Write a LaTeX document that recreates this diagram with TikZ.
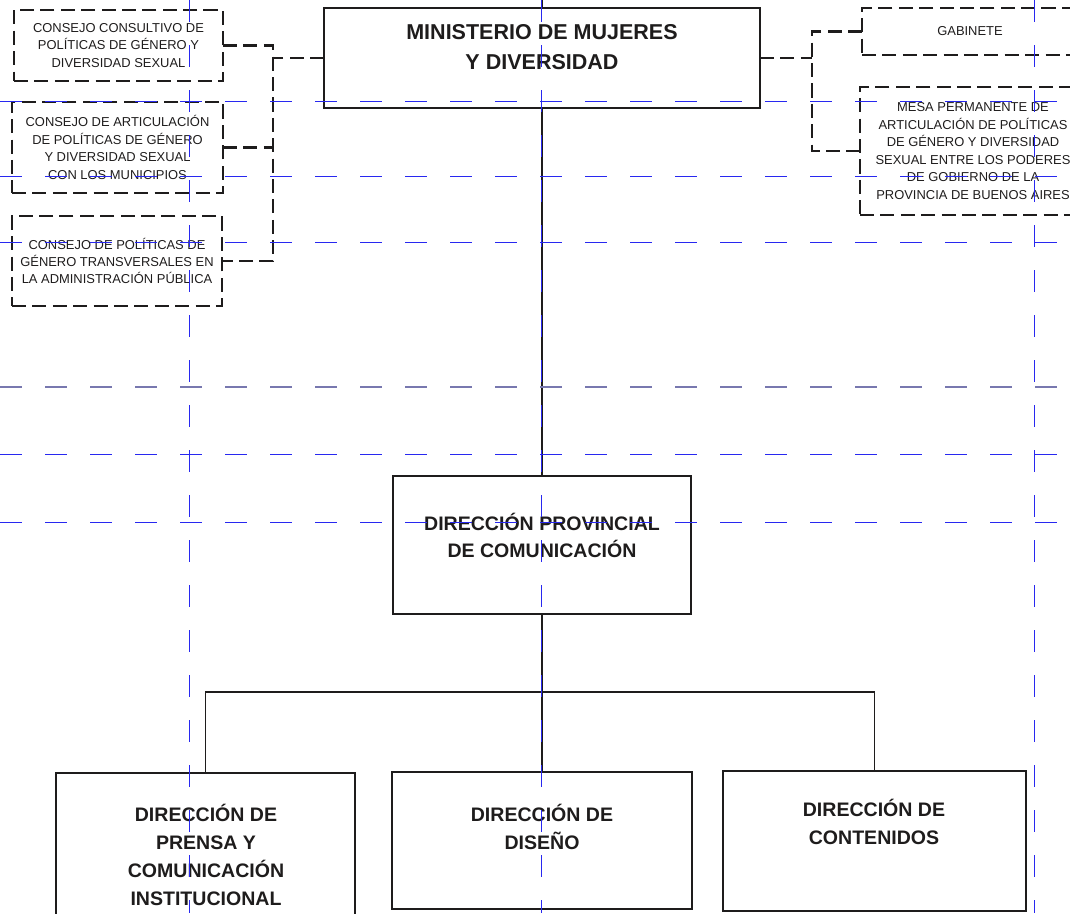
\documentclass[tikz,border=0pt]{standalone}
\usepackage{fontspec}
\setsansfont{Liberation Sans}
\definecolor{guideblue}{RGB}{40,40,240}
\definecolor{guidegray}{RGB}{120,120,175}
\definecolor{inkgray}{RGB}{30,28,28}
\def\px{0.025cm}

\begin{document}
\begin{tikzpicture}[font=\sffamily, x=\px, y=-\px, text=inkgray]
    \tikzstyle{orgbox}=[rectangle, draw=inkgray, line width=1.4pt, inner sep=0pt, outer sep=0pt, anchor=north west]
    \tikzstyle{advbox}=[orgbox, line width=1.5pt, dash pattern=on 10pt off 4.5pt, align=center, font=\sffamily\fontsize{9.2}{12.4}\selectfont]
    \tikzstyle{headtxt}=[inner sep=0pt, align=center, font=\sffamily\bfseries\fontsize{13.9}{20}\selectfont]
    \tikzstyle{solidlink}=[draw=inkgray, line width=1.4pt]
    \tikzstyle{dashlink}=[solidlink, line width=1.5pt, dash pattern=on 10pt off 4.5pt]
    \tikzstyle{guide}=[draw=guideblue, line width=0.55pt, dash pattern=on 15.65pt off 16.36pt]

    \useasboundingbox (0,0) rectangle (1070,913);
    \clip (0,0) rectangle (1070,913);

    % ministerio
    \node[orgbox, minimum width=436*\px, minimum height=100*\px] (ministerio) at (324,8) {};
    \node[headtxt, font=\sffamily\bfseries\fontsize{15.3}{21.3}\selectfont] (ministeriotxt) at (542,47) {MINISTERIO DE MUJERES\\Y DIVERSIDAD};

    % consejos
    \node[advbox, minimum width=209*\px, minimum height=71*\px] (consultivo) at (14,10) {CONSEJO CONSULTIVO DE\\POLÍTICAS DE GÉNERO Y\\DIVERSIDAD SEXUAL};
    \node[advbox, minimum width=211*\px, minimum height=91*\px] (articulacion) at (12,102) {CONSEJO DE ARTICULACIÓN\\DE POLÍTICAS DE GÉNERO\\Y DIVERSIDAD SEXUAL\\CON LOS MUNICIPIOS};
    \node[advbox, minimum width=210*\px, minimum height=90*\px] (transversal) at (12,216) {CONSEJO DE POLÍTICAS DE\\GÉNERO TRANSVERSALES EN\\LA ADMINISTRACIÓN PÚBLICA};
    \node[advbox, minimum width=216*\px, minimum height=47*\px] (gabinete) at (862,8) {GABINETE};
    \node[advbox, minimum width=226*\px, minimum height=128*\px] (mesa) at (860,87) {MESA PERMANENTE DE\\ARTICULACIÓN DE POLÍTICAS\\DE GÉNERO Y DIVERSIDAD\\SEXUAL ENTRE LOS PODERES\\DE GOBIERNO DE LA\\PROVINCIA DE BUENOS AIRES};

    % direcciones
    \node[orgbox, minimum width=298*\px, minimum height=138*\px] (dprov) at (393,476) {};
    \node[headtxt, font=\sffamily\bfseries\fontsize{13.9}{19.2}\selectfont] (dprovtxt) at (542,535) {DIRECCIÓN PROVINCIAL\\DE COMUNICACIÓN};
    \node[orgbox, minimum width=299*\px, minimum height=152*\px] (prensa) at (56,773) {};
    \node[headtxt] (prensatxt) at (206,855) {DIRECCIÓN DE\\PRENSA Y\\COMUNICACIÓN\\INSTITUCIONAL};
    \node[orgbox, minimum width=300*\px, minimum height=137*\px] (diseno) at (392,772) {};
    \node[headtxt] (disenotxt) at (542,827) {DIRECCIÓN DE\\DISEÑO};
    \node[orgbox, minimum width=303*\px, minimum height=140*\px] (contenidos) at (723,771) {};
    \node[headtxt] (contenidostxt) at (874,822) {DIRECCIÓN DE\\CONTENIDOS};

    \coordinate (top) at (542,0);
    \coordinate (lbus) at (273,58);
    \coordinate (rbus) at (812,58);
    \coordinate (hbar) at (542,692);

    \draw[solidlink] (top) -- (ministerio.north);
    \draw[solidlink] (ministerio.south) -- (dprov.north);
    \draw[solidlink] (dprov.south) -- (hbar) -- (diseno.north);
    \draw[solidlink] (prensa.north) -- (prensa.north |- hbar) -- (contenidos.north |- hbar) -- (contenidos.north);

    \draw[dashlink] (ministerio.west) -- (lbus);
    \draw[dashlink] (consultivo.east) -- (consultivo.east -| lbus) -- (transversal.east -| lbus) -- (transversal.east);
    \draw[dashlink] (articulacion.east) -- (articulacion.east -| lbus);
    \draw[dashlink] (ministerio.east) -- (rbus);
    \draw[dashlink] (gabinete.west) -- (gabinete.west -| rbus) -- (mesa.west -| rbus) -- (mesa.west);

    % guias
    \foreach \gy in {101,176,242,454,522}
        \draw[guide] (0,\gy) -- (1070,\gy);
    \draw[guide, draw=guidegray, line width=1pt] (0,387) -- (1070,387);
    \foreach \gx in {189,541,1034}
        \draw[guide] (\gx,0) -- (\gx,913);
\end{tikzpicture}
\end{document}
